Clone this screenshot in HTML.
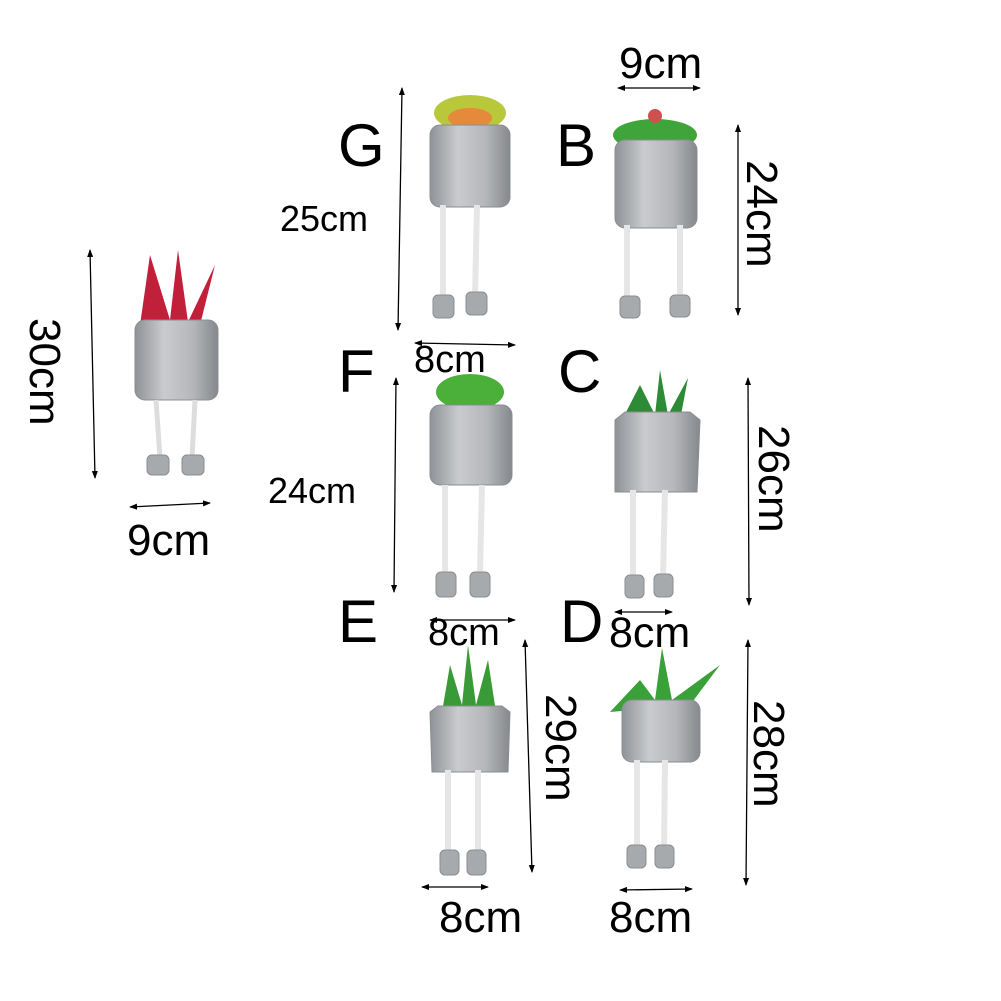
<!DOCTYPE html>
<html><head><meta charset="utf-8"><style>
html,body{margin:0;padding:0;background:#fff;}
svg{display:block;}
text{font-family:"Liberation Sans",sans-serif;fill:#000;}
</style></head><body>
<svg width="1001" height="1001" viewBox="0 0 1001 1001" xmlns="http://www.w3.org/2000/svg">
<defs>
<marker id="a" markerWidth="8" markerHeight="8" refX="7" refY="4" orient="auto-start-reverse" markerUnits="userSpaceOnUse">
<path d="M0,1 L8,4 L0,7 Z" fill="#000"/></marker>
<linearGradient id="pg" x1="0" x2="1"><stop offset="0" stop-color="#8f9296"/><stop offset=".35" stop-color="#c9cbce"/><stop offset=".7" stop-color="#b4b6b9"/><stop offset="1" stop-color="#85888c"/></linearGradient>
</defs>
<g stroke="#000" stroke-width="1.3" marker-start="url(#a)" marker-end="url(#a)">
<line x1="90" y1="250" x2="95" y2="478"/>
<line x1="130" y1="507" x2="210" y2="503"/>
<line x1="402" y1="88" x2="398" y2="330"/>
<line x1="415" y1="343" x2="515" y2="345"/>
<line x1="618" y1="88" x2="700" y2="88"/>
<line x1="738" y1="125" x2="738" y2="315"/>
<line x1="396" y1="378" x2="394" y2="592"/>
<line x1="748" y1="378" x2="749" y2="605"/>
<line x1="430" y1="620" x2="515" y2="620"/>
<line x1="615" y1="612" x2="672" y2="612"/>
<line x1="525" y1="640" x2="532" y2="872"/>
<line x1="748" y1="640" x2="746" y2="885"/>
<line x1="422" y1="887" x2="488" y2="887"/>
<line x1="620" y1="890" x2="692" y2="889"/>
</g>
<g font-size="44">
<text x="127" y="555">9cm</text>
<text x="619" y="78">9cm</text>
<text x="439" y="932">8cm</text>
<text x="609" y="932">8cm</text>
<text x="428" y="645" font-size="38">8cm</text>
<text x="609" y="647" font-size="43">8cm</text>
<text x="414" y="372" font-size="38">8cm</text>
</g>
<g font-size="36">
<text x="280" y="231">25cm</text>
<text x="268" y="503">24cm</text>
</g>
<g font-size="44">
<text transform="translate(30,318) rotate(90)">30cm</text>
<text transform="translate(747,160) rotate(90)">24cm</text>
<text transform="translate(759,425) rotate(90)">26cm</text>
<text transform="translate(546,694) rotate(90)">29cm</text>
<text transform="translate(754,700) rotate(90)">28cm</text>
</g>
<g font-size="60">
<text x="338" y="166">G</text>
<text x="556" y="166">B</text>
<text x="338" y="392">F</text>
<text x="558" y="392">C</text>
<text x="338" y="642">E</text>
<text x="560" y="642">D</text>
</g>
<g stroke="#8a8d91" stroke-width="1">
<path d="M150,255 L170,320 L178,250 L188,322 L215,265 L200,325 L140,325 Z" fill="#c0203a" stroke="none"/>
<rect x="135" y="320" width="83" height="80" rx="10" fill="url(#pg)"/>
<line x1="156" y1="400" x2="160" y2="458" stroke="#ddd" stroke-width="5"/><line x1="195" y1="400" x2="192" y2="458" stroke="#ddd" stroke-width="5"/>
<rect x="147" y="455" width="22" height="20" rx="5" fill="#a7aaad"/><rect x="182" y="455" width="22" height="20" rx="5" fill="#a7aaad"/>
<ellipse cx="470" cy="113" rx="36" ry="18" fill="#b8c83a" stroke="none"/><ellipse cx="470" cy="118" rx="22" ry="10" fill="#e48a3a" stroke="none"/>
<rect x="430" y="125" width="80" height="82" rx="10" fill="url(#pg)"/>
<line x1="443" y1="205" x2="443" y2="298" stroke="#e6e6e6" stroke-width="6"/><line x1="477" y1="205" x2="475" y2="298" stroke="#e6e6e6" stroke-width="6"/>
<rect x="433" y="295" width="21" height="23" rx="5" fill="#a7aaad"/><rect x="466" y="292" width="21" height="23" rx="5" fill="#a7aaad"/>
<ellipse cx="655" cy="135" rx="42" ry="16" fill="#3fa53a" stroke="none"/><circle cx="655" cy="116" r="7" fill="#d05050" stroke="none"/>
<rect x="615" y="140" width="82" height="88" rx="10" fill="url(#pg)"/>
<line x1="627" y1="225" x2="627" y2="298" stroke="#e6e6e6" stroke-width="6"/><line x1="680" y1="225" x2="680" y2="298" stroke="#e6e6e6" stroke-width="6"/>
<rect x="620" y="296" width="20" height="22" rx="5" fill="#a7aaad"/><rect x="670" y="295" width="20" height="22" rx="5" fill="#a7aaad"/>
<ellipse cx="470" cy="392" rx="34" ry="18" fill="#4ab03a" stroke="none"/>
<rect x="430" y="405" width="82" height="80" rx="10" fill="url(#pg)"/>
<line x1="445" y1="485" x2="445" y2="573" stroke="#e6e6e6" stroke-width="6"/><line x1="482" y1="485" x2="480" y2="573" stroke="#e6e6e6" stroke-width="6"/>
<rect x="436" y="572" width="20" height="25" rx="5" fill="#a7aaad"/><rect x="470" y="572" width="20" height="25" rx="5" fill="#a7aaad"/>
<path d="M622,420 L640,385 L655,415 L660,370 L668,415 L688,378 L680,420 L695,418 Z" fill="#2d8a35" stroke="none"/>
<path d="M615,420 L625,412 L690,412 L700,420 L697,492 L615,492 Z" fill="url(#pg)"/>
<line x1="633" y1="490" x2="633" y2="578" stroke="#e6e6e6" stroke-width="6"/><line x1="665" y1="490" x2="663" y2="578" stroke="#e6e6e6" stroke-width="6"/>
<rect x="625" y="575" width="19" height="23" rx="5" fill="#a7aaad"/><rect x="654" y="574" width="19" height="23" rx="5" fill="#a7aaad"/>
<path d="M442,712 L450,665 L462,705 L468,645 L476,705 L488,660 L496,712 Z" fill="#3a9a38" stroke="none"/>
<path d="M430,712 L438,706 L502,706 L510,712 L508,772 L432,772 Z" fill="url(#pg)"/>
<line x1="448" y1="770" x2="448" y2="852" stroke="#e6e6e6" stroke-width="6"/><line x1="478" y1="770" x2="478" y2="852" stroke="#e6e6e6" stroke-width="6"/>
<rect x="440" y="850" width="19" height="25" rx="5" fill="#a7aaad"/><rect x="467" y="850" width="19" height="25" rx="5" fill="#a7aaad"/>
<path d="M610,712 L640,680 L655,700 L662,648 L672,700 L720,665 L690,705 Z" fill="#3aa038" stroke="none"/>
<rect x="622" y="700" width="78" height="62" rx="10" fill="url(#pg)"/>
<line x1="637" y1="760" x2="637" y2="848" stroke="#e6e6e6" stroke-width="6"/><line x1="665" y1="760" x2="664" y2="848" stroke="#e6e6e6" stroke-width="6"/>
<rect x="627" y="845" width="19" height="23" rx="5" fill="#a7aaad"/><rect x="655" y="845" width="19" height="23" rx="5" fill="#a7aaad"/>
</g>
</svg>
</body></html>
